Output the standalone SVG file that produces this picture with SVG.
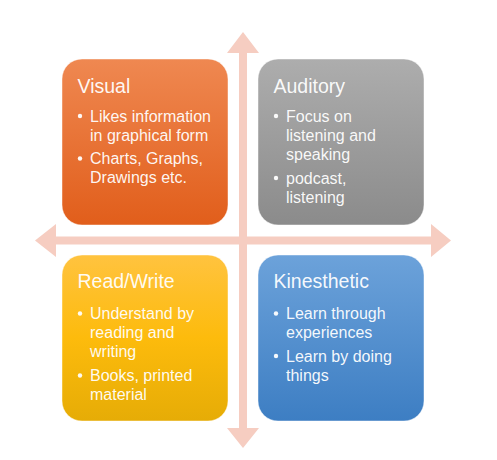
<svg xmlns="http://www.w3.org/2000/svg" width="497" height="460" viewBox="0 0 497 460">
<style>
.box{stroke:#ffffff;stroke-opacity:0.45;stroke-width:1}
.title{font-family:"Liberation Sans",Arial,sans-serif;font-size:19.5px;fill:#ffffff;fill-opacity:0.95}
.body{font-family:"Liberation Sans",Arial,sans-serif;font-size:16px;fill:#ffffff;fill-opacity:0.95}
.bul{fill:#ffffff;fill-opacity:0.95}
.axis{fill:#F6CDC1}
</style>
<defs>
<linearGradient id="gO" x1="0" y1="0" x2="0" y2="1"><stop offset="0" stop-color="#EF8851"/><stop offset="1" stop-color="#E15E1B"/></linearGradient>
<linearGradient id="gG" x1="0" y1="0" x2="0" y2="1"><stop offset="0" stop-color="#ADADAD"/><stop offset="1" stop-color="#8B8B8B"/></linearGradient>
<linearGradient id="gY" x1="0" y1="0" x2="0" y2="1"><stop offset="0" stop-color="#FFC33F"/><stop offset="0.5" stop-color="#FDBB0C"/><stop offset="1" stop-color="#E6AC06"/></linearGradient>
<linearGradient id="gB" x1="0" y1="0" x2="0" y2="1"><stop offset="0" stop-color="#6CA2DA"/><stop offset="1" stop-color="#3D7EC3"/></linearGradient>
</defs>
<rect width="497" height="460" fill="#ffffff"/>
<g id="connectors">
<polygon class="axis" points="243,32 259,53 247,53 247,428 259,428 243,448 227,428 239,428 239,53 227,53"/>
<polygon class="axis" points="35,240.5 56,224 56,236.5 431,236.5 431,224 451,240.5 431,257 431,244.5 56,244.5 56,257"/>
</g>
<g id="visual">
<rect class="box" x="62" y="59" width="166" height="166" rx="20" fill="url(#gO)"/>
<text class="title" x="77.5" y="92.5">Visual</text>
<circle class="bul" cx="80" cy="116" r="2.2"/>
<text class="body" x="90" y="121.7">Likes information</text>
<text class="body" x="90" y="140.7">in graphical form</text>
<circle class="bul" cx="80" cy="158.5" r="2.2"/>
<text class="body" x="90" y="164.2">Charts, Graphs,</text>
<text class="body" x="90" y="183.2">Drawings etc.</text>
</g>
<g id="auditory">
<rect class="box" x="258" y="59" width="166" height="166" rx="20" fill="url(#gG)"/>
<text class="title" x="273.5" y="92.5">Auditory</text>
<circle class="bul" cx="276" cy="116" r="2.2"/>
<text class="body" x="286" y="121.7">Focus on</text>
<text class="body" x="286" y="140.7">listening and</text>
<text class="body" x="286" y="159.7">speaking</text>
<circle class="bul" cx="276" cy="178" r="2.2"/>
<text class="body" x="286" y="183.5">podcast,</text>
<text class="body" x="286" y="202.5">listening</text>
</g>
<g id="readwrite">
<rect class="box" x="62" y="255" width="166" height="166" rx="20" fill="url(#gY)"/>
<text class="title" x="77.5" y="288.3">Read/Write</text>
<circle class="bul" cx="80" cy="313.5" r="2.2"/>
<text class="body" x="90" y="319.3">Understand by</text>
<text class="body" x="90" y="338.3">reading and</text>
<text class="body" x="90" y="357.3">writing</text>
<circle class="bul" cx="80" cy="375.5" r="2.2"/>
<text class="body" x="90" y="381">Books, printed</text>
<text class="body" x="90" y="400">material</text>
</g>
<g id="kinesthetic">
<rect class="box" x="258" y="255" width="166" height="166" rx="20" fill="url(#gB)"/>
<text class="title" x="273.5" y="288.3">Kinesthetic</text>
<circle class="bul" cx="276" cy="313.5" r="2.2"/>
<text class="body" x="286" y="319.3">Learn through</text>
<text class="body" x="286" y="338.3">experiences</text>
<circle class="bul" cx="276" cy="356" r="2.2"/>
<text class="body" x="286" y="361.8">Learn by doing</text>
<text class="body" x="286" y="380.8">things</text>
</g>
</svg>
